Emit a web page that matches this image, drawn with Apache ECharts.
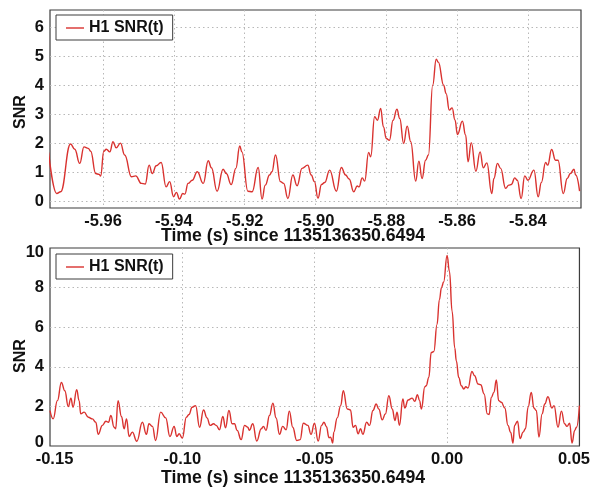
<!DOCTYPE html>
<html>
<head>
<meta charset="utf-8">
<script src="https://cdn.jsdelivr.net/npm/echarts@6/dist/echarts.min.js"></script>
<style>
  html, body { margin: 0; padding: 0; background: #fff; }
  #chart { width: 593px; height: 488px; }
</style>
</head>
<body>
<div id="chart"></div>
<script>
// H1 matched-filter SNR around two times (offsets in s from the reference GPS time)
const seriesName = 'H1 SNR(t)';
const xTitle = 'Time (s) since 1135136350.6494';
const yTitle = 'SNR';

// Upper panel: window near -5.9 s
const topTime = [
  -5.9754, -5.9731, -5.9720, -5.9692, -5.9680, -5.9666, -5.9654, -5.9642, -5.9635, -5.9621,
  -5.9611, -5.9607, -5.9598, -5.9591, -5.9581, -5.9572, -5.9563, -5.9551, -5.9539, -5.9520,
  -5.9508, -5.9492, -5.9481, -5.9470, -5.9461, -5.9450, -5.9436, -5.9422, -5.9412, -5.9401,
  -5.9393, -5.9384, -5.9375, -5.9369, -5.9360, -5.9348, -5.9334, -5.9317, -5.9303, -5.9294,
  -5.9278, -5.9261, -5.9252, -5.9238, -5.9225, -5.9214, -5.9208, -5.9191, -5.9179, -5.9162,
  -5.9151, -5.9142, -5.9130, -5.9123, -5.9113, -5.9099, -5.9090, -5.9078, -5.9064, -5.9052,
  -5.9038, -5.9022, -5.9012, -5.9003, -5.8993, -5.8983, -5.8974, -5.8960, -5.8941, -5.8927,
  -5.8915, -5.8905, -5.8892, -5.8882, -5.8877, -5.8868, -5.8861, -5.8850, -5.8844, -5.8833,
  -5.8825, -5.8816, -5.8808, -5.8800, -5.8791, -5.8781, -5.8770, -5.8762, -5.8751, -5.8741,
  -5.8731, -5.8717, -5.8708, -5.8699, -5.8689, -5.8681, -5.8669, -5.8659, -5.8653, -5.8638,
  -5.8631, -5.8622, -5.8614, -5.8606, -5.8599, -5.8585, -5.8576, -5.8569, -5.8560, -5.8547,
  -5.8535, -5.8526, -5.8516, -5.8502, -5.8496, -5.8486, -5.8477, -5.8463, -5.8454, -5.8447,
  -5.8437, -5.8430, -5.8419, -5.8409, -5.8400, -5.8383, -5.8371, -5.8362, -5.8350, -5.8344,
  -5.8333, -5.8322, -5.8315, -5.8300, -5.8289, -5.8280, -5.8270, -5.8265, -5.8254
];
const topSnr = [
  1.68, 0.26, 0.32, 1.97, 1.79, 1.30, 1.87, 1.82, 1.72, 0.95,
  0.92, 0.86, 1.72, 1.79, 1.70, 2.05, 1.84, 2.00, 1.59, 0.84,
  0.87, 0.61, 0.59, 1.24, 0.95, 1.22, 1.33, 0.49, 0.67, 0.15,
  0.30, 0.07, 0.26, 0.24, 0.61, 0.72, 1.01, 0.61, 1.39, 1.15,
  0.34, 1.10, 0.95, 0.57, 1.13, 1.90, 1.70, 0.34, 0.32, 1.16,
  0.07, 0.55, 0.90, 1.01, 1.59, 0.67, 0.61, 0.09, 0.90, 0.53,
  1.13, 1.24, 0.90, 0.67, 0.10, 0.57, 0.64, 1.07, 0.34, 1.16,
  0.90, 0.76, 0.32, 0.52, 0.49, 0.80, 0.69, 1.68, 1.53, 2.91,
  2.79, 3.20, 2.56, 2.16, 2.10, 2.79, 3.17, 2.85, 1.99, 2.59,
  2.05, 0.69, 1.38, 0.78, 1.41, 1.59, 4.00, 4.90, 4.80, 4.00,
  3.71, 3.14, 3.22, 2.80, 2.30, 2.76, 2.28, 1.36, 2.02, 1.03,
  1.70, 1.15, 1.32, 0.26, 0.78, 1.30, 1.13, 0.44, 0.55, 0.57,
  0.80, 0.72, 0.09, 0.87, 0.72, 1.07, 0.15, 0.64, 1.33, 1.24,
  1.78, 1.41, 1.41, 0.26, 0.78, 0.95, 1.10, 0.90, 0.34
];

// Lower panel: window around the event time
const botTime = [
  -0.1500, -0.1488, -0.1472, -0.1457, -0.1444, -0.1431, -0.1421, -0.1413, -0.1399, -0.1390,
  -0.1384, -0.1371, -0.1355, -0.1340, -0.1327, -0.1318, -0.1302, -0.1289, -0.1279, -0.1270,
  -0.1258, -0.1252, -0.1243, -0.1230, -0.1220, -0.1211, -0.1201, -0.1189, -0.1172, -0.1151,
  -0.1136, -0.1126, -0.1113, -0.1101, -0.1082, -0.1063, -0.1047, -0.1031, -0.1021, -0.1012,
  -0.1000, -0.0985, -0.0975, -0.0963, -0.0950, -0.0935, -0.0920, -0.0907, -0.0895, -0.0882,
  -0.0872, -0.0860, -0.0847, -0.0837, -0.0824, -0.0812, -0.0803, -0.0793, -0.0778, -0.0765,
  -0.0753, -0.0747, -0.0734, -0.0719, -0.0702, -0.0694, -0.0684, -0.0671, -0.0658, -0.0646,
  -0.0633, -0.0621, -0.0608, -0.0596, -0.0583, -0.0568, -0.0555, -0.0543, -0.0526, -0.0514,
  -0.0501, -0.0487, -0.0474, -0.0465, -0.0456, -0.0446, -0.0440, -0.0432, -0.0428, -0.0415,
  -0.0402, -0.0392, -0.0377, -0.0365, -0.0355, -0.0346, -0.0336, -0.0327, -0.0318, -0.0304,
  -0.0293, -0.0280, -0.0268, -0.0258, -0.0245, -0.0233, -0.0220, -0.0207, -0.0197, -0.0189,
  -0.0180, -0.0167, -0.0160, -0.0147, -0.0132, -0.0122, -0.0112, -0.0104, -0.0097, -0.0084,
  -0.0079, -0.0069, -0.0060, -0.0050, -0.0038, -0.0029, -0.0021, -0.0013, 0.0000, 0.0009,
  0.0019, 0.0029, 0.0035, 0.0044, 0.0054, 0.0063, 0.0071, 0.0079, 0.0094, 0.0104,
  0.0117, 0.0127, 0.0140, 0.0152, 0.0159, 0.0167, 0.0177, 0.0186, 0.0195, 0.0205,
  0.0218, 0.0230, 0.0240, 0.0249, 0.0255, 0.0266, 0.0276, 0.0287, 0.0296, 0.0306,
  0.0318, 0.0328, 0.0337, 0.0347, 0.0359, 0.0369, 0.0381, 0.0396, 0.0404, 0.0419,
  0.0432, 0.0444, 0.0453, 0.0463, 0.0472, 0.0482, 0.0489, 0.0500
];
const botSnr = [
  1.79, 1.37, 2.29, 3.21, 2.79, 1.99, 2.42, 1.96, 2.84, 2.29,
  1.62, 1.71, 1.45, 1.37, 1.20, 0.59, 1.04, 1.25, 1.20, 1.54,
  0.95, 0.87, 2.29, 1.49, 0.87, 1.37, 0.48, 0.70, 0.24, 1.20,
  0.59, 1.12, 0.99, 0.28, 1.71, 1.42, 0.48, 0.99, 0.48, 0.62,
  0.40, 1.45, 1.59, 1.96, 2.04, 0.95, 1.82, 1.42, 1.04, 1.12,
  1.04, 0.82, 1.49, 0.92, 1.79, 1.12, 1.12, 0.79, 0.32, 1.04,
  0.95, 0.79, 1.12, 0.25, 0.87, 0.99, 0.79, 1.54, 2.16, 1.42,
  0.59, 0.99, 0.82, 1.76, 0.95, 0.28, 0.32, 1.15, 1.04, 0.59,
  1.15, 0.25, 1.04, 1.20, 0.99, 0.42, 0.45, 0.15, 0.70, 1.42,
  2.04, 2.79, 1.87, 1.82, 0.95, 1.04, 0.62, 0.87, 0.59, 1.20,
  1.04, 1.79, 2.12, 1.87, 1.32, 1.62, 2.54, 1.87, 1.29, 1.71,
  1.04, 2.37, 1.92, 2.32, 2.42, 2.26, 2.59, 2.29, 1.87, 2.99,
  3.04, 3.46, 4.72, 4.77, 6.14, 7.39, 8.01, 8.28, 9.62, 8.81,
  6.81, 4.95, 4.30, 3.46, 3.04, 2.88, 2.99, 2.93, 3.76, 3.55,
  3.13, 3.09, 2.63, 1.62, 1.59, 2.45, 2.71, 3.33, 2.29, 2.21,
  1.92, 1.04, 0.70, 0.15, 1.04, 1.25, 0.37, 0.70, 0.87, 1.96,
  2.71, 1.92, 1.79, 0.45, 1.62, 2.12, 2.49, 1.92, 2.04, 0.95,
  1.76, 1.12, 0.99, 1.15, 0.15, 0.79, 0.95, 2.04
];

// Axis extents, tick label positions and interior grid-line positions
const topXRange = [-5.975, -5.825];
const topXTicks = [-5.96, -5.94, -5.92, -5.90, -5.88, -5.86, -5.84];
const topXGrid = topXTicks;
const topYRange = [-0.24, 6.6];
const topYTicks = [0, 1, 2, 3, 4, 5, 6];
const topYGrid = topYTicks;
const botXRange = [-0.15, 0.05];
const botXTicks = [-0.15, -0.10, -0.05, 0.00, 0.05];
const botXGrid = [-0.10, -0.05, 0.00];
const botYRange = [0, 10];
const botYTicks = [0, 2, 4, 6, 8, 10];
const botYGrid = [2, 4, 6, 8];

const FONT = '"Liberation Sans", Arial, Helvetica, sans-serif';
const LINE_COLOR = '#d9322f';
const TEXT_COLOR = '#111';
const tickFont = { fontFamily: FONT, fontSize: 16.5, fontWeight: 'bold', color: TEXT_COLOR };

const chart = echarts.init(document.getElementById('chart'), null, { renderer: 'canvas' });

function gridDef(top) {
  return {
    left: 50, right: 12, top: top, height: 198,
    show: true, borderColor: '#3c3c3c', borderWidth: 1.2, backgroundColor: 'transparent'
  };
}

function splitStyle() {
  return { show: true, lineStyle: { color: '#b8b8b8', type: [1.5, 3], width: 1 } };
}

// rich styles used to nudge the end labels inwards
function richStyles() {
  return {
    l: Object.assign({ padding: [0, 0, 0, 9] }, tickFont),
    r: Object.assign({ padding: [0, 11, 0, 0] }, tickFont),
    b: Object.assign({ padding: [0, 0, 8, 0] }, tickFont),
    t: Object.assign({ padding: [8, 0, 0, 0] }, tickFont)
  };
}

function xAxisDef(gridIndex, range, ticks, grid, fmt) {
  return {
    type: 'value', gridIndex: gridIndex, min: range[0], max: range[1],
    axisLine: { show: false },
    axisTick: { show: false, customValues: grid },
    splitLine: splitStyle(),
    axisLabel: Object.assign({ customValues: ticks, margin: 5, formatter: fmt }, tickFont, { rich: richStyles() })
  };
}

function yAxisDef(gridIndex, range, ticks, grid, fmt) {
  return {
    type: 'value', gridIndex: gridIndex, min: range[0], max: range[1],
    axisLine: { show: false },
    axisTick: { show: false, customValues: grid },
    splitLine: splitStyle(),
    axisLabel: Object.assign({ customValues: ticks, margin: 6, formatter: fmt }, tickFont, { rich: richStyles() })
  };
}

function legendDef(top) {
  return {
    data: [seriesName], left: 56, top: top, orient: 'horizontal',
    selectedMode: false,
    icon: 'rect',
    padding: [5, 9, 4, 10],
    borderColor: '#3c3c3c', borderWidth: 1, backgroundColor: '#fff',
    itemWidth: 18, itemHeight: 1.4,
    textStyle: { fontFamily: FONT, fontSize: 16, fontWeight: 'bold', color: TEXT_COLOR }
  };
}

function lineSeries(xIdx, times, values) {
  return {
    name: seriesName, type: 'line', xAxisIndex: xIdx, yAxisIndex: xIdx,
    data: times.map((t, i) => [t, values[i]]),
    symbol: 'none', smooth: 0.45, smoothMonotone: 'x',
    lineStyle: { color: LINE_COLOR, width: 1.4 },
    itemStyle: { color: LINE_COLOR },
    z: 3
  };
}

function titleText(x, y, text, rotate, size) {
  return {
    type: 'text', x: x, y: y, rotation: rotate ? Math.PI / 2 : 0,
    style: {
      text: text, fill: TEXT_COLOR, font: 'bold ' + size + 'px ' + FONT,
      textAlign: 'center', textVerticalAlign: 'middle'
    }
  };
}

const near = (a, b) => Math.abs(a - b) < 1e-9;

chart.setOption({
  animation: false,
  backgroundColor: '#fff',
  grid: [gridDef(10), gridDef(248)],
  xAxis: [
    xAxisDef(0, topXRange, topXTicks, topXGrid, (v) => v.toFixed(2)),
    xAxisDef(1, botXRange, botXTicks, botXGrid, (v) => {
      const s = (Math.abs(v) < 1e-9 ? 0 : v).toFixed(2);
      if (near(v, botXRange[0])) return '{l|' + s + '}';
      if (near(v, botXRange[1])) return '{r|' + s + '}';
      return s;
    })
  ],
  yAxis: [
    yAxisDef(0, topYRange, topYTicks, topYGrid, (v) => String(Math.round(v))),
    yAxisDef(1, botYRange, botYTicks, botYGrid, (v) => {
      const s = String(Math.round(v));
      if (near(v, botYRange[0])) return '{b|' + s + '}';
      if (near(v, botYRange[1])) return '{t|' + s + '}';
      return s;
    })
  ],
  legend: [legendDef(15), legendDef(254)],
  series: [
    lineSeries(0, topTime, topSnr),
    lineSeries(1, botTime, botSnr)
  ],
  graphic: [
    titleText(293, 236, xTitle, false, 17.7),
    titleText(293, 478, xTitle, false, 17.7),
    titleText(21, 112, yTitle, true, 16),
    titleText(21, 356, yTitle, true, 16)
  ]
});
</script>
</body>
</html>
